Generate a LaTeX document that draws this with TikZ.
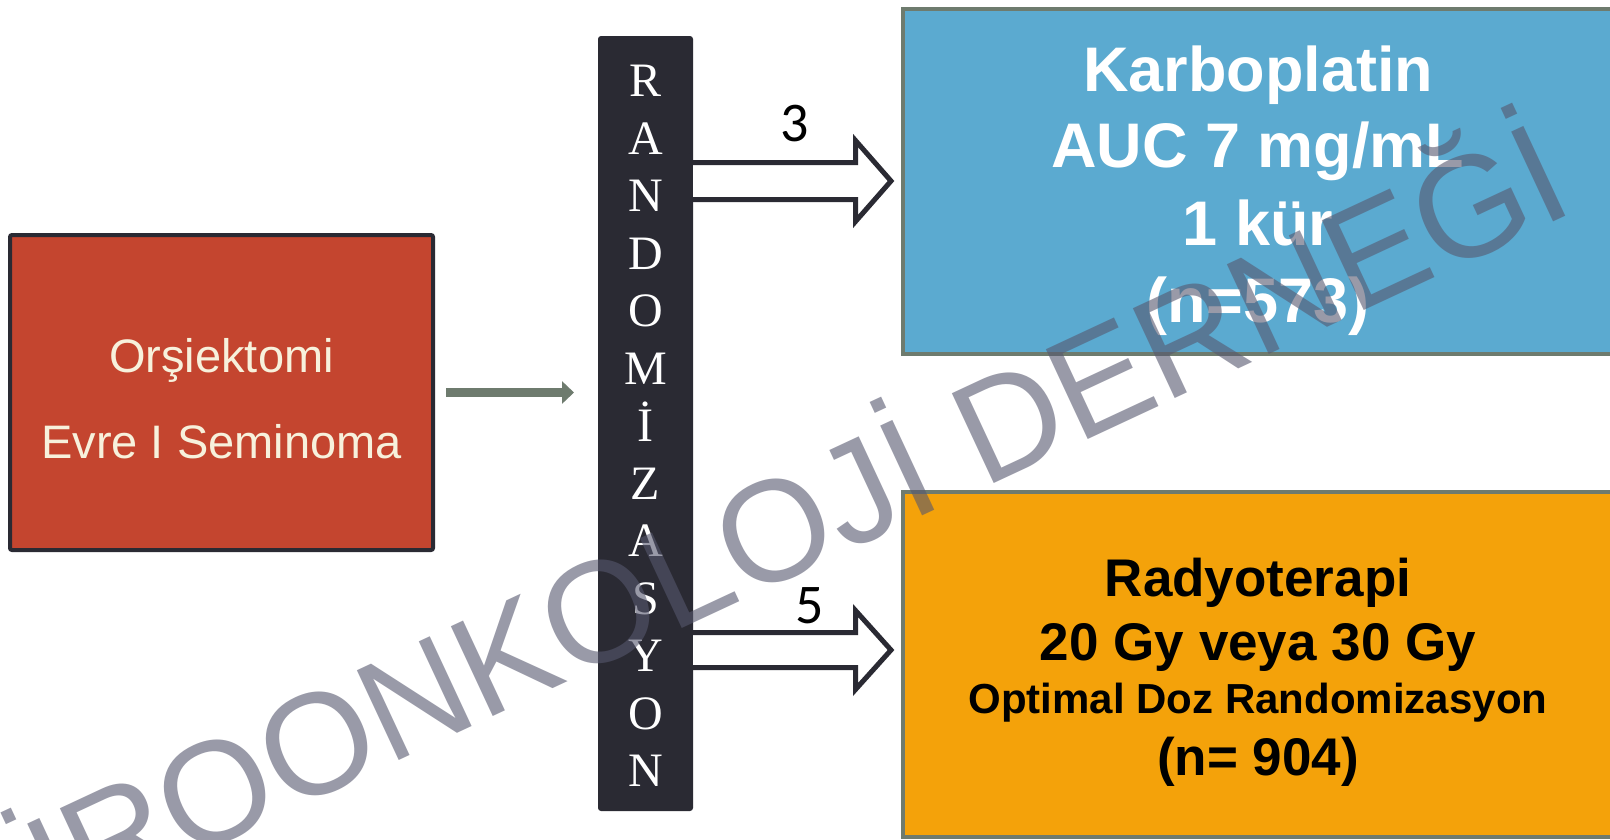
\documentclass[tikz,border=0pt]{standalone}
\usepackage{fontspec}
\setmainfont{Liberation Sans}
\newfontfamily\barfont{Liberation Serif}
\newfontfamily\numfont{Carlito}
\usetikzlibrary{arrows.meta,calc}
\definecolor{redfill}{HTML}{C4452F}
\definecolor{barfill}{HTML}{2A2A33}
\definecolor{edgegray}{HTML}{6E7B6E}
\definecolor{bluefill}{HTML}{5BAAD0}
\definecolor{orangefill}{HTML}{F4A20A}
\definecolor{creamtext}{HTML}{F7F1DC}
\definecolor{wmcolor}{HTML}{56576E}
\begin{document}
\begin{tikzpicture}[x=1pt,y=-1pt,
  boxbase/.style={rectangle, inner sep=0pt, outer sep=0pt},
  redbox/.style={boxbase, fill=redfill, draw=barfill, line width=4pt, rounded corners=2pt},
  barbox/.style={boxbase, fill=barfill, rounded corners=3pt},
  bluebox/.style={boxbase, fill=bluefill, draw=edgegray, line width=4pt},
  orangebox/.style={boxbase, fill=orangefill, draw=edgegray, line width=4pt},
  redtext/.style={anchor=base, inner sep=0pt, text=creamtext, font=\fontsize{47}{56}\selectfont},
  bluetext/.style={anchor=base, inner sep=0pt, text=white, font=\bfseries\fontsize{63}{70}\selectfont},
  orangetext/.style={anchor=base, inner sep=0pt, text=black, font=\bfseries\fontsize{53}{60}\selectfont},
  smalltext/.style={anchor=base, inner sep=0pt, text=black, font=\bfseries\fontsize{42}{48}\selectfont},
  barletter/.style={anchor=base, inner sep=0pt, text=white, font=\barfont\fontsize{48}{56}\selectfont},
  numlabel/.style={anchor=base, inner sep=0pt, text=black, font=\numfont\fontsize{56}{60}\selectfont},
  grayarrow/.style={draw=edgegray, line width=9pt, -{Triangle[length=12pt,width=22pt]}},
  blockarrow/.style={draw=barfill, fill=white, line width=5pt, line join=miter},
  watermark/.style={inner sep=0pt, text=wmcolor, text opacity=0.6, font=\fontsize{144}{150}\selectfont}
]
\useasboundingbox (0,0) rectangle (1610,839);
\clip (0,0) rectangle (1610,839);
\fill[white] (0,0) rectangle (1610,839);

% boxes
\node[redbox, minimum width=423pt, minimum height=315pt] (orch) at (221.5,392.5) {};
\node[redtext] (orch1) at (221.5,372) {Orşiektomi};
\node[redtext] (orch2) at (221.5,458) {Evre I Seminoma};

\node[barbox, minimum width=95pt, minimum height=775pt] (bar) at (645.5,423.5) {};
\foreach \l [count=\i from 0] in {R,A,N,D,O,M,İ,Z,A,S,Y,O,N}
  \node[barletter] (L\i) at (645.5,96.5+57.5*\i) {\l};

\node[bluebox, minimum width=727pt, minimum height=345pt] (carbo) at (1266.5,181.5) {};
\node[bluetext] (c1) at (1258,91) {Karboplatin};
\node[bluetext] (c2) at (1258,167) {AUC 7 mg/mL};
\node[bluetext] (c3) at (1258,245) {1 kür};
\node[bluetext] (c4) at (1258,322) {(n=573)};

\node[orangebox, minimum width=727pt, minimum height=345pt] (radio) at (1266.5,664.5) {};
\node[orangetext] (r1) at (1258,596) {Radyoterapi};
\node[orangetext] (r2) at (1258,660) {20 Gy veya 30 Gy};
\node[smalltext] (r3) at (1258,713) {Optimal Doz Randomizasyon};
\node[orangetext] (r4) at (1258,775) {(n= 904)};

% connectors
\draw[grayarrow, shorten <=13pt, shorten >=24pt] (orch.east) -- (bar.west |- orch.east);

\coordinate (tip3) at (891,181);
\coordinate (tip5) at (891,650);
\draw[blockarrow] (bar.east |- 0,162.5) -- (855.5,162.5) -- (855.5,140.5) -- (tip3)
  -- (855.5,221.5) -- (855.5,199.5) -- (bar.east |- 0,199.5);
\draw[blockarrow] (bar.east |- 0,632.5) -- (855.5,632.5) -- (855.5,610.5) -- (tip5)
  -- (855.5,689.5) -- (855.5,667.5) -- (bar.east |- 0,667.5);
\node[numlabel] (n3) at (795,141) {3};
\node[numlabel] (n5) at (810,623) {5};

% watermark
\node[watermark, rotate=25, anchor=base west] (wm) at (-3,948) {ÜROONKOLOJİ DERNEĞİ};
\end{tikzpicture}
\end{document}
